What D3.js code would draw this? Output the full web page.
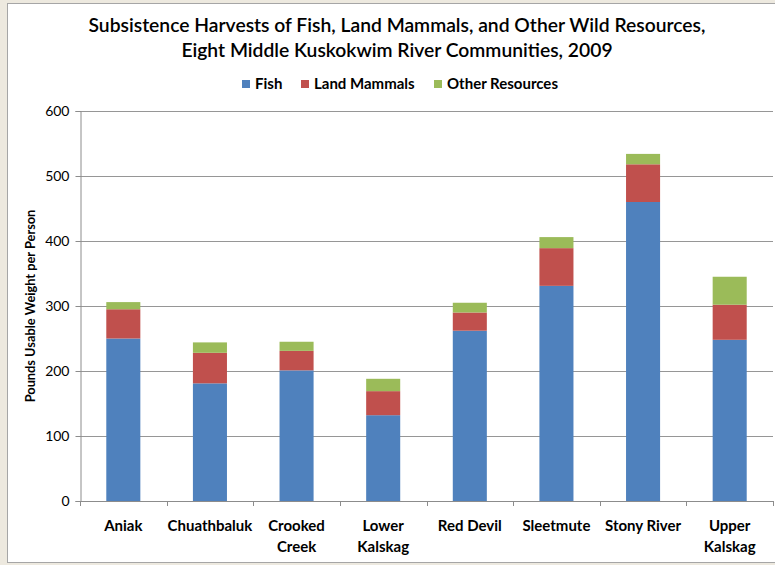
<!DOCTYPE html>
<html>
<head>
<meta charset="utf-8">
<script src="https://cdn.jsdelivr.net/npm/d3@7"></script>
<style>
  html, body { margin: 0; padding: 0; background: #ede9df; }
  svg { display: block; }
  text { font-family: Lato, "Open Sans", sans-serif; fill: #000; }
</style>
</head>
<body>
<svg id="chart" width="775" height="565"></svg>
<script>
const categories = ["Aniak", "Chuathbaluk", "Crooked Creek", "Lower Kalskag", "Red Devil", "Sleetmute", "Stony River", "Upper Kalskag"];
const categoryLines = [["Aniak"], ["Chuathbaluk"], ["Crooked", "Creek"], ["Lower", "Kalskag"], ["Red Devil"], ["Sleetmute"], ["Stony River"], ["Upper", "Kalskag"]];
const seriesNames = ["Fish", "Land Mammals", "Other Resources"];
const fish = [250, 181, 201, 132, 262, 331, 460, 248];
const landMammals = [45, 47, 30, 37, 28, 58, 58, 54];
const otherResources = [11, 16, 14, 19, 15, 17, 16, 43];
const yTicks = [0, 100, 200, 300, 400, 500, 600];
const colors = ["#4f81bd", "#c0504d", "#9bbb59"];
const titleLines = ["Subsistence Harvests of Fish, Land Mammals, and Other Wild Resources,", "Eight Middle Kuskokwim River Communities, 2009"];
const yTitle = "Pounds Usable Weight per Person";

const svg = d3.select("#chart");

// frame
svg.append("rect").attr("x", 7.5).attr("y", 3.5).attr("width", 775).attr("height", 559)
  .attr("fill", "#fff").attr("stroke", "#a6a6a6").attr("stroke-width", 1);

const rows = categories.map((c, i) => ({cat: c, "Fish": fish[i], "Land Mammals": landMammals[i], "Other Resources": otherResources[i]}));
const stacked = d3.stack().keys(seriesNames)(rows);

const pLeft = 80, pRight = 773, pTop = 111, pBottom = 501;
const x = d3.scaleBand().domain(categories).range([pLeft, pRight]).paddingInner(0.607).paddingOuter(0.3035);
const xb = d3.scaleBand().domain(categories).range([pLeft, pRight]).padding(0);
const y = d3.scaleLinear().domain([0, 600]).range([pBottom, pTop]);

// gridlines
svg.append("g").selectAll("line").data(yTicks.filter(t => t > 0)).join("line")
  .attr("x1", pLeft).attr("x2", pRight)
  .attr("y1", d => Math.round(y(d)) + 0.5).attr("y2", d => Math.round(y(d)) + 0.5)
  .attr("stroke", "#969696").attr("stroke-width", 1);

// bars
svg.append("g").selectAll("g").data(stacked).join("g")
  .attr("fill", (d, i) => colors[i])
  .selectAll("rect").data(d => d).join("rect")
  .attr("x", d => x(d.data.cat))
  .attr("width", x.bandwidth())
  .attr("y", d => y(d[1]))
  .attr("height", d => y(d[0]) - y(d[1]));

// y axis
const yAxis = d3.axisLeft(y).tickValues(yTicks).tickSize(5).tickPadding(6);
const gy = svg.append("g").attr("transform", `translate(${pLeft + 0.5},0)`).call(yAxis);
gy.select(".domain").attr("stroke", "#8c8c8c");
gy.selectAll(".tick line").attr("stroke", "#8c8c8c");
gy.selectAll(".tick text").attr("font-family", "Lato, sans-serif").attr("font-size", 14).attr("fill", "#000");

// x axis
svg.append("line").attr("x1", pLeft).attr("x2", pRight + 1)
  .attr("y1", pBottom + 0.5).attr("y2", pBottom + 0.5).attr("stroke", "#8c8c8c");
const bounds = categories.map(c => xb(c)).concat([pRight]);
svg.append("g").selectAll("line").data(bounds).join("line")
  .attr("x1", d => Math.round(d) + 0.5).attr("x2", d => Math.round(d) + 0.5)
  .attr("y1", pBottom).attr("y2", pBottom + 5).attr("stroke", "#8c8c8c");

const xl = svg.append("g").selectAll("text").data(categories).join("text")
  .attr("x", d => xb(d) + xb.bandwidth() / 2)
  .attr("y", 531)
  .attr("text-anchor", "middle")
  .attr("font-size", 15).attr("font-weight", "bold");
xl.each(function(d, i) {
  d3.select(this).selectAll("tspan").data(categoryLines[i]).join("tspan")
    .attr("x", xb(d) + xb.bandwidth() / 2)
    .attr("dy", (t, j) => j === 0 ? 0 : 21)
    .text(t => t);
});

// y title
svg.append("text")
  .attr("transform", `translate(35,306) rotate(-90)`)
  .attr("text-anchor", "middle")
  .attr("font-size", 12.8).attr("font-weight", "bold")
  .text(yTitle);

// title
svg.append("g").selectAll("text").data(titleLines).join("text")
  .attr("x", 397).attr("y", (d, i) => 32 + i * 25)
  .attr("text-anchor", "middle")
  .attr("font-size", 19.3).attr("font-weight", "600")
  .text(d => d);

// legend
const legendX = [242, 301, 434];
const lg = svg.append("g").selectAll("g").data(seriesNames).join("g")
  .attr("transform", (d, i) => `translate(${legendX[i]},0)`);
lg.append("rect").attr("x", 0).attr("y", 80).attr("width", 8).attr("height", 8)
  .attr("fill", (d, i) => colors[i]);
lg.append("text").attr("x", 13).attr("y", 88.5)
  .attr("font-size", 15).attr("font-weight", "bold")
  .text(d => d);
</script>
</body>
</html>
